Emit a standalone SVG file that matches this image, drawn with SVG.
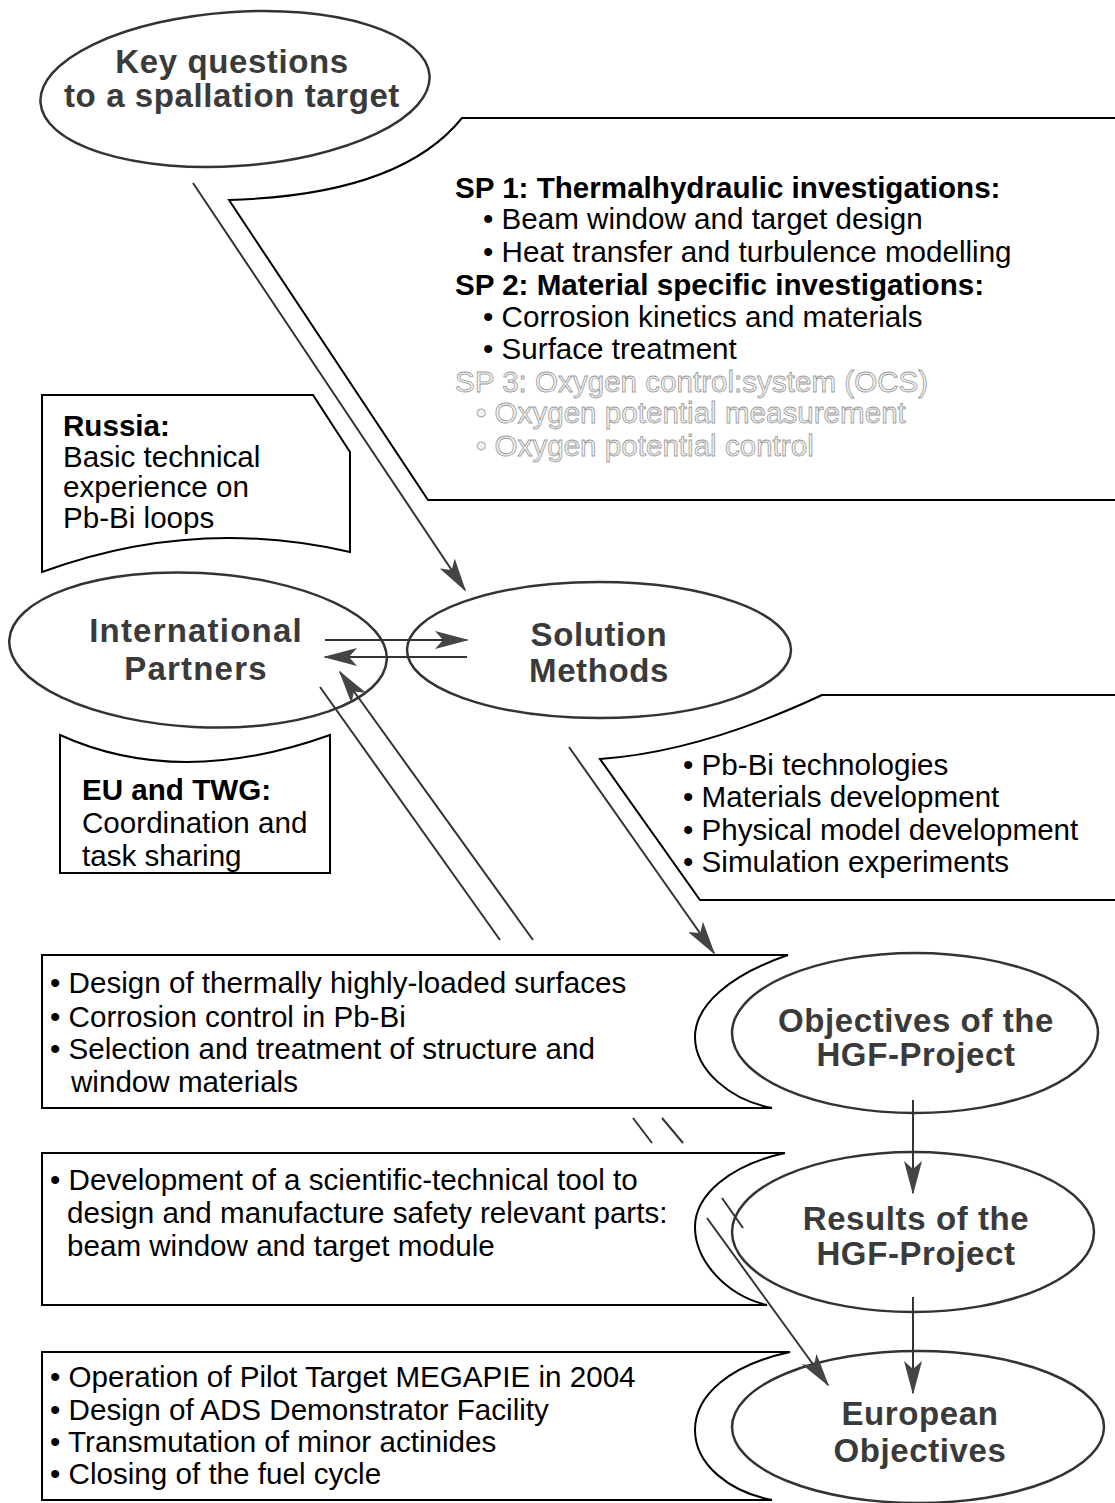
<svg xmlns="http://www.w3.org/2000/svg" width="1115" height="1503" viewBox="0 0 1115 1503">
<style>
text{font-family:"Liberation Sans",Arial,sans-serif;font-size:29.6px;fill:#000}
.b{font-weight:bold}
.lbl{font-weight:bold;font-size:33px;fill:#3a3a3a;text-anchor:middle;letter-spacing:0.6px}
.faint{fill:#f2f2f2;stroke:#9a9a9a;stroke-width:0.8}
.shape{fill:#fff;stroke:#000;stroke-width:2}
.ell{fill:#fff;stroke:#333;stroke-width:2.5}
.con{fill:none;stroke:#333;stroke-width:2}
</style>
<defs>
<marker id="ah" markerUnits="userSpaceOnUse" markerWidth="34" markerHeight="18" refX="32" refY="9" orient="auto">
<path d="M0,0 L34,9 L0,18 L8,9 z" fill="#444"/>
</marker>
</defs>
<rect width="1115" height="1503" fill="#fff"/>

<g id="callout-sp">
<path class="shape" d="M1118 118 L462 118 Q400 195 229 200 L428 500 L1118 500"/>
<text class="b" x="455" y="198">SP 1: Thermalhydraulic investigations:</text>
<text x="483" y="229">• Beam window and target design</text>
<text x="483" y="262">• Heat transfer and turbulence modelling</text>
<text class="b" x="455" y="295">SP 2: Material specific investigations:</text>
<text x="483" y="327">• Corrosion kinetics and materials</text>
<text x="483" y="359">• Surface treatment</text>
<text class="faint" x="455" y="392">SP 3: Oxygen control:system (OCS)</text>
<text class="faint" x="476" y="423">• Oxygen potential measurement</text>
<text class="faint" x="476" y="456">• Oxygen potential control</text>
</g>

<g id="russia">
<path class="shape" d="M42 395 L313 395 L350 452 L350 552 Q194 516 42 572 Z"/>
<text class="b" x="63" y="436">Russia:</text>
<text x="63" y="467">Basic technical</text>
<text x="63" y="497">experience on</text>
<text x="63" y="528">Pb-Bi loops</text>
</g>

<g id="eu-twg">
<path class="shape" d="M60 735 Q179 789 330 735 L330 873 L60 873 Z"/>
<text class="b" x="82" y="800">EU and TWG:</text>
<text x="82" y="833">Coordination and</text>
<text x="82" y="866">task sharing</text>
</g>

<g id="callout-tech">
<path class="shape" d="M1118 695 L822 695 Q700 752 600 759 L700 900 L1118 900"/>
<text x="683" y="775">• Pb-Bi technologies</text>
<text x="683" y="807">• Materials development</text>
<text x="683" y="840">• Physical model development</text>
<text x="683" y="872">• Simulation experiments</text>
</g>

<g id="box-objectives">
<path class="shape" d="M42 955 L788 955 C730 975 695 1005 695 1037 C695 1070 730 1100 772 1108 L42 1108 Z"/>
<text x="50" y="993">• Design of thermally highly-loaded surfaces</text>
<text x="50" y="1027">• Corrosion control in Pb-Bi</text>
<text x="50" y="1059">• Selection and treatment of structure and</text>
<text x="71" y="1092">window materials</text>
</g>

<g id="box-results">
<path class="shape" d="M42 1153 L785 1153 C730 1165 695 1195 695 1227 C695 1260 725 1295 767 1305 L42 1305 Z"/>
<text x="50" y="1190">• Development of a scientific-technical tool to</text>
<text x="67" y="1223">design and manufacture safety relevant parts:</text>
<text x="67" y="1256">beam window and target module</text>
</g>

<g id="box-european">
<path class="shape" d="M42 1352 L790 1352 C730 1365 695 1395 695 1430 C695 1465 730 1492 772 1500 L42 1500 Z"/>
<text x="50" y="1387">• Operation of Pilot Target MEGAPIE in 2004</text>
<text x="50" y="1420">• Design of ADS Demonstrator  Facility</text>
<text x="50" y="1452">• Transmutation of minor actinides</text>
<text x="50" y="1484">• Closing of the fuel cycle</text>
</g>

<g id="key-questions">
<ellipse class="ell" cx="235" cy="89" rx="195" ry="77" transform="rotate(-4 235 89)"/>
<text class="lbl" x="232" y="73">Key questions</text>
<text class="lbl" x="232" y="107">to a spallation target</text>
</g>

<g id="international-partners">
<ellipse class="ell" cx="198" cy="650" rx="189" ry="77" transform="rotate(3 198 650)"/>
<text class="lbl" x="196" y="642" style="letter-spacing:1.2px">International</text>
<text class="lbl" x="196" y="680" style="letter-spacing:1.2px">Partners</text>
</g>

<g id="solution-methods">
<ellipse class="ell" cx="599" cy="650" rx="192" ry="68"/>
<text class="lbl" x="599" y="646">Solution</text>
<text class="lbl" x="599" y="682">Methods</text>
</g>

<g id="objectives-hgf">
<ellipse class="ell" cx="915" cy="1033" rx="183" ry="80"/>
<text class="lbl" x="916" y="1032">Objectives of the</text>
<text class="lbl" x="916" y="1066">HGF-Project</text>
</g>

<g id="results-hgf">
<ellipse class="ell" cx="913" cy="1232" rx="181" ry="80"/>
<text class="lbl" x="916" y="1230">Results of the</text>
<text class="lbl" x="916" y="1265">HGF-Project</text>
</g>

<g id="european-objectives">
<ellipse class="ell" cx="918" cy="1427" rx="186" ry="76"/>
<text class="lbl" x="920" y="1425">European</text>
<text class="lbl" x="920" y="1462">Objectives</text>
</g>

<g id="connectors">
<line class="con" x1="193" y1="183" x2="465" y2="590" marker-end="url(#ah)" stroke-width="2.5"/>
<line class="con" x1="325" y1="640" x2="467" y2="640" marker-end="url(#ah)"/>
<line class="con" x1="467" y1="657" x2="325" y2="657" marker-end="url(#ah)"/>
<line class="con" x1="320" y1="687" x2="500" y2="940"/>
<line class="con" x1="533" y1="940" x2="340" y2="672" marker-end="url(#ah)"/>
<line class="con" x1="569" y1="747" x2="714" y2="953" marker-end="url(#ah)"/>
<line class="con" x1="633" y1="1118" x2="652" y2="1143"/>
<line class="con" x1="662" y1="1118" x2="683" y2="1143"/>
<line class="con" x1="913" y1="1100" x2="913" y2="1193" marker-end="url(#ah)"/>
<line class="con" x1="913" y1="1297" x2="913" y2="1393" marker-end="url(#ah)"/>
<line class="con" x1="722" y1="1198" x2="743" y2="1228"/>
<line class="con" x1="707" y1="1218" x2="828" y2="1385" marker-end="url(#ah)"/>
</g>
</svg>
